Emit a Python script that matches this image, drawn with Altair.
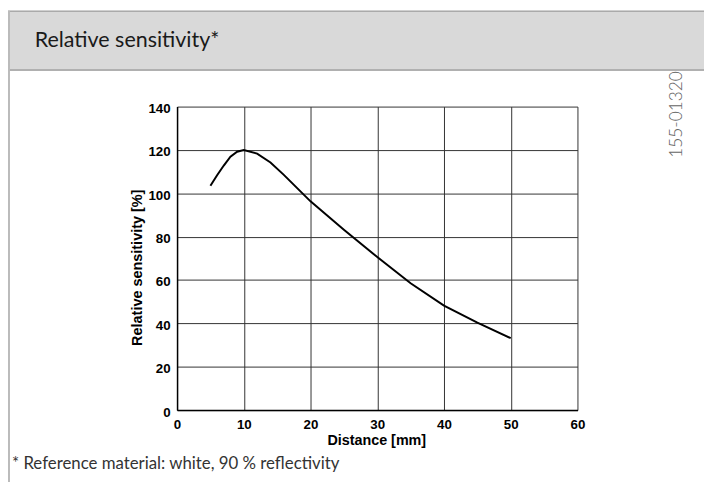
import altair as alt
import pandas as pd

# --- data ---
distance_mm = [5, 6, 7, 8, 9, 10, 12, 14, 16, 18, 20, 25, 30, 35, 40, 45, 50]
sensitivity_pct = [103.5, 108.3, 112.8, 116.9, 119.2, 120.0, 118.3, 114.2, 108.5,
                   102.4, 96.3, 83.2, 70.6, 58.5, 48.2, 40.3, 33.2]
x_ticks = [0, 10, 20, 30, 40, 50, 60]
y_ticks = [0, 20, 40, 60, 80, 100, 120, 140]

header_text = "Relative sensitivity*"
footnote_text = "* Reference material: white, 90 % reflectivity"
code_text = "155-01320"
x_title = "Distance [mm]"
y_title = "Relative sensitivity [%]"

df = pd.DataFrame({"d": distance_mm, "s": sensitivity_pct})
one = pd.DataFrame({"k": [0]})

W, H = 405, 307
PL, PT = 171, 97
TW, TH = 704, 474

x_enc = alt.X("d:Q", scale=alt.Scale(domain=[0, 60], nice=False),
              axis=alt.Axis(values=x_ticks, title=None, ticks=False, labelPadding=8,
                            labelFont="Liberation Sans", labelFontWeight="bold",
                            labelFontSize=13.5, labelColor="#000",
                            grid=True, gridColor="#333", gridWidth=1,
                            domainColor="#000", domainWidth=1.5, labelFlush=False))
y_enc = alt.Y("s:Q", scale=alt.Scale(domain=[0, 140], nice=False),
              axis=alt.Axis(values=y_ticks, title=None, ticks=False, labelPadding=7,
                            labelOffset=2,
                            labelFont="Liberation Sans", labelFontWeight="bold",
                            labelFontSize=13.5, labelColor="#000",
                            grid=True, gridColor="#333", gridWidth=1,
                            domainColor="#000", domainWidth=1.5))

line = alt.Chart(df).mark_line(color="#000", strokeWidth=2).encode(x=x_enc, y=y_enc)

band = alt.Chart(one).mark_rect(color="#d9d9d9").encode(
    x=alt.value(-PL), x2=alt.value(TW), y=alt.value(-PT), y2=alt.value(-37))
band_top = alt.Chart(one).mark_rule(color="#aaaaaa", strokeWidth=1.5).encode(
    x=alt.value(-PL), x2=alt.value(TW), y=alt.value(-96.5))
band_bottom = alt.Chart(one).mark_rule(color="#b0b0b0", strokeWidth=2).encode(
    x=alt.value(-PL), x2=alt.value(TW), y=alt.value(-37))
left_border = alt.Chart(one).mark_rule(color="#bbbbbb", strokeWidth=2).encode(
    x=alt.value(-170), y=alt.value(-PT), y2=alt.value(380))

header = alt.Chart(one).mark_text(text=header_text, font="Lato", fontSize=21.7,
                                  align="left", baseline="alphabetic", color="#1a1a1a").encode(
    x=alt.value(-144), y=alt.value(-60))
footnote = alt.Chart(one).mark_text(text=footnote_text, font="Lato", fontSize=17,
                                    align="left", baseline="middle", color="#333").encode(
    x=alt.value(-167), y=alt.value(362))
code = alt.Chart(one).mark_text(text=code_text, font="Lato", fontSize=17.5, angle=270,
                                fontWeight=300, align="center", baseline="middle",
                                color="#666").encode(
    x=alt.value(506), y=alt.value(8))
xt = alt.Chart(one).mark_text(text=x_title, font="Liberation Sans", fontWeight="bold",
                              fontSize=14.5, align="center", baseline="middle", color="#000").encode(
    x=alt.value(202), y=alt.value(338))
yt = alt.Chart(one).mark_text(text=y_title, font="Liberation Sans", fontWeight="bold",
                              fontSize=14.6, angle=270, align="center", baseline="middle",
                              color="#000").encode(
    x=alt.value(-39), y=alt.value(163))

chart = alt.layer(band, band_top, band_bottom, left_border, header, footnote, code,
                  xt, yt, line).properties(
    width=W, height=H,
    autosize=alt.AutoSizeParams(type="none"),
    padding={"left": PL, "top": PT, "right": TW - PL - W, "bottom": TH - PT - H},
    background="#ffffff",
).configure_view(stroke=None)

chart.save("out.html", embed_options={"renderer": "svg", "actions": False})
